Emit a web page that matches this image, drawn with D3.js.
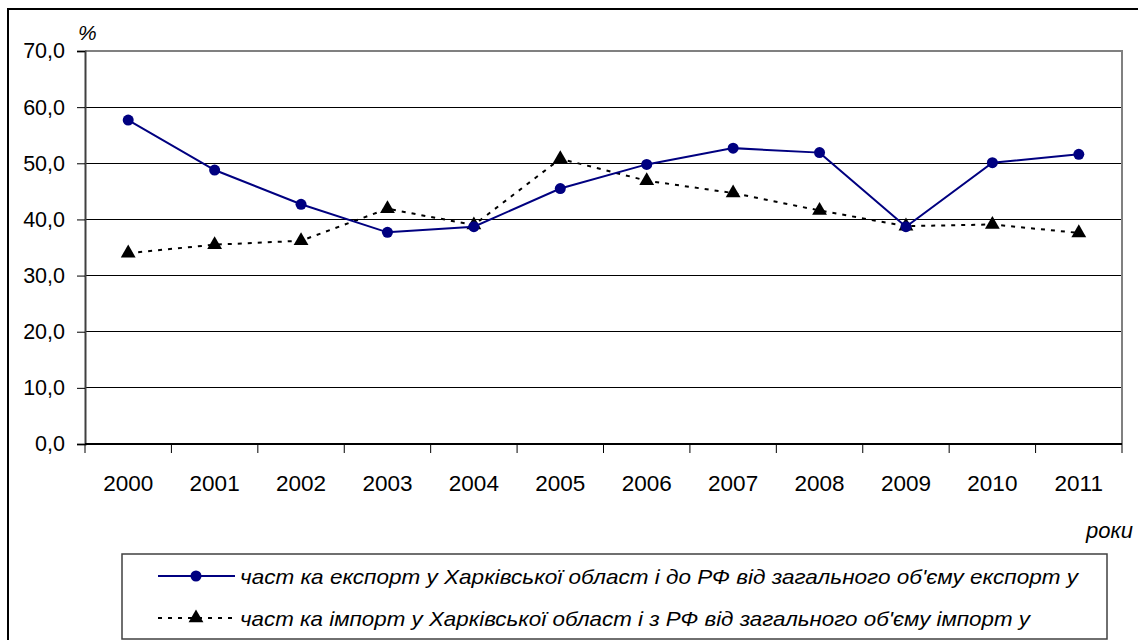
<!DOCTYPE html>
<html>
<head>
<meta charset="utf-8">
<script src="https://cdn.jsdelivr.net/npm/d3@7"></script>
<style>
  body { margin: 0; background: #fff; }
  text { font-family: "Liberation Sans", Arial, sans-serif; }
</style>
</head>
<body>
<script>
var years = ["2000", "2001", "2002", "2003", "2004", "2005", "2006", "2007", "2008", "2009", "2010", "2011"];
var exportShare = [57.7, 48.8, 42.7, 37.7, 38.7, 45.5, 49.8, 52.7, 51.9, 38.7, 50.1, 51.6];
var importShare = [34.0, 35.5, 36.2, 41.9, 39.0, 50.8, 46.9, 44.7, 41.6, 38.8, 39.1, 37.6];
var yTicks = [0, 10, 20, 30, 40, 50, 60, 70];
var legendLabels = [
  "част ка експорт у Харківської област і до РФ від загального об'єму експорт у",
  "част ка імпорт у Харківської област і з РФ від загального об'єму імпорт у"
];

var W = 1138, H = 640;
var pLeft = 85, pRight = 1122, pTop = 51, pBottom = 444;

var svg = d3.select("body").append("svg")
  .attr("width", W)
  .attr("height", H);

// outer frame (runs off right and bottom)
svg.append("rect")
  .attr("x", 8).attr("y", 9)
  .attr("width", W + 10).attr("height", H + 10)
  .attr("fill", "none")
  .attr("stroke", "#000")
  .attr("stroke-width", 2);

var x = d3.scaleBand().domain(years).range([pLeft, pRight]);
var y = d3.scaleLinear().domain([0, 70]).range([pBottom, pTop]);

// gridlines
svg.append("g").selectAll("line").data(yTicks.filter(d => d > 0 && d < 70))
  .enter().append("line")
  .attr("x1", pLeft).attr("x2", pRight)
  .attr("y1", d => y(d)).attr("y2", d => y(d))
  .attr("stroke", "#000")
  .attr("stroke-width", 1)
  .attr("shape-rendering", "crispEdges");

// plot border top/right
svg.append("path")
  .attr("d", "M" + pLeft + "," + pTop + "H" + pRight + "V" + pBottom)
  .attr("fill", "none")
  .attr("stroke", "#808080")
  .attr("stroke-width", 2)
  .attr("shape-rendering", "crispEdges");

// y axis
var yAxis = d3.axisLeft(y).tickValues(yTicks).tickSize(8).tickPadding(12)
  .tickFormat(d => d3.format(".1f")(d).replace(".", ","));
var gy = svg.append("g").attr("transform", "translate(" + pLeft + ",0)").call(yAxis);
gy.select(".domain").attr("stroke", "#404040").attr("stroke-width", 2);
gy.selectAll(".tick line").attr("stroke", "#000");
gy.selectAll("text").attr("font-size", 21.5).attr("fill", "#000")
  .attr("font-family", "Liberation Sans, Arial, sans-serif");

// x axis
var gx = svg.append("g").attr("transform", "translate(0," + pBottom + ")");
gx.append("line")
  .attr("x1", pLeft).attr("x2", pRight)
  .attr("stroke", "#000").attr("stroke-width", 2);
var edges = years.map(d => x(d)).concat([pRight]);
gx.selectAll(".tk").data(edges).enter().append("line")
  .attr("x1", d => d).attr("x2", d => d)
  .attr("y1", 0).attr("y2", 9)
  .attr("stroke", "#000");
gx.selectAll(".lbl").data(years).enter().append("text")
  .attr("x", d => x(d) + x.bandwidth() / 2)
  .attr("y", 47)
  .attr("text-anchor", "middle")
  .attr("font-size", 22.5)
  .text(d => d);

// axis titles
svg.append("text").attr("x", 78).attr("y", 40)
  .attr("font-size", 21).attr("font-style", "italic").text("%");
svg.append("text").attr("x", 1133).attr("y", 538)
  .attr("text-anchor", "end")
  .attr("font-size", 22).attr("font-style", "italic").text("роки");

var cx = (d, i) => x(years[i]) + x.bandwidth() / 2;

// import series
var lineImp = d3.line().x((d, i) => cx(d, i)).y(d => y(d));
svg.append("path")
  .attr("d", lineImp(importShare))
  .attr("fill", "none")
  .attr("stroke", "#000")
  .attr("stroke-width", 2)
  .attr("stroke-dasharray", "4,6");
var tri = d3.symbol().type(d3.symbolTriangle).size(95);
svg.append("g").selectAll("path").data(importShare)
  .enter().append("path")
  .attr("d", tri)
  .attr("transform", (d, i) => "translate(" + cx(d, i) + "," + y(d) + ")")
  .attr("fill", "#000");

// export series
var lineExp = d3.line().x((d, i) => cx(d, i)).y(d => y(d));
svg.append("path")
  .attr("d", lineExp(exportShare))
  .attr("fill", "none")
  .attr("stroke", "#000080")
  .attr("stroke-width", 2);
svg.append("g").selectAll("circle").data(exportShare)
  .enter().append("circle")
  .attr("cx", (d, i) => cx(d, i))
  .attr("cy", d => y(d))
  .attr("r", 5.5)
  .attr("fill", "#000080");

// legend
var lg = svg.append("g");
lg.append("rect")
  .attr("x", 122).attr("y", 554)
  .attr("width", 985).attr("height", 85)
  .attr("fill", "#fff")
  .attr("stroke", "#404040")
  .attr("stroke-width", 1.5);
var rows = [576, 618];
var textLens = [838, 790];
lg.append("line").attr("x1", 158).attr("x2", 235).attr("y1", rows[0]).attr("y2", rows[0])
  .attr("stroke", "#000080").attr("stroke-width", 2);
lg.append("circle").attr("cx", 196).attr("cy", rows[0]).attr("r", 5.5).attr("fill", "#000080");
lg.append("line").attr("x1", 158).attr("x2", 235).attr("y1", rows[1]).attr("y2", rows[1])
  .attr("stroke", "#000").attr("stroke-width", 2).attr("stroke-dasharray", "4,6");
lg.append("path").attr("d", tri).attr("transform", "translate(196," + rows[1] + ")").attr("fill", "#000");
lg.selectAll(".lt").data(legendLabels).enter().append("text")
  .attr("x", 240)
  .attr("y", (d, i) => rows[i] + 8)
  .attr("font-size", 21)
  .attr("font-style", "italic")
  .attr("textLength", (d, i) => textLens[i])
  .attr("lengthAdjust", "spacingAndGlyphs")
  .text(d => d);
</script>
</body>
</html>
